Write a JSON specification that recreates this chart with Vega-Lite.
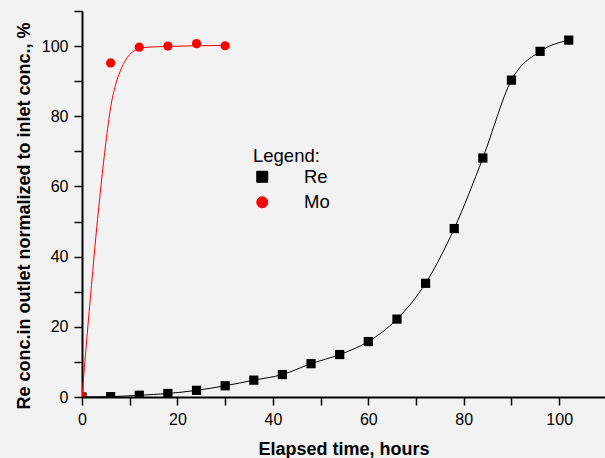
{
  "$schema": "https://vega.github.io/schema/vega-lite/v6.json",
  "width": 523,
  "height": 386,
  "autosize": {"type": "none"},
  "padding": {"left": 82, "top": 11, "right": 0, "bottom": 61},
  "background": "#f2f2f2",
  "config": {"view": {"stroke": null}, "font": "Liberation Sans"},
  "datasets": {
    "points": [
      {"series": "Re", "t": 0, "v": 0},
      {"series": "Re", "t": 6, "v": 0.1},
      {"series": "Re", "t": 12, "v": 0.5},
      {"series": "Re", "t": 18, "v": 1.0},
      {"series": "Re", "t": 24, "v": 1.9},
      {"series": "Re", "t": 30, "v": 3.2},
      {"series": "Re", "t": 36, "v": 4.8},
      {"series": "Re", "t": 42, "v": 6.4},
      {"series": "Re", "t": 48, "v": 9.5},
      {"series": "Re", "t": 54, "v": 12.1},
      {"series": "Re", "t": 60, "v": 15.8},
      {"series": "Re", "t": 66, "v": 22.2},
      {"series": "Re", "t": 72, "v": 32.4},
      {"series": "Re", "t": 78, "v": 48.0},
      {"series": "Re", "t": 84, "v": 68.1},
      {"series": "Re", "t": 90, "v": 90.3},
      {"series": "Re", "t": 96, "v": 98.5},
      {"series": "Re", "t": 102, "v": 101.7},
      {"series": "Mo", "t": 0, "v": 0},
      {"series": "Mo", "t": 6, "v": 95.2},
      {"series": "Mo", "t": 12, "v": 99.7},
      {"series": "Mo", "t": 18, "v": 100.0},
      {"series": "Mo", "t": 24, "v": 100.7},
      {"series": "Mo", "t": 30, "v": 100.1}
    ],
    "fit": [
      {"series": "Re", "t": 0, "v": 0},
      {"series": "Re", "t": 6, "v": 0.1},
      {"series": "Re", "t": 12, "v": 0.5},
      {"series": "Re", "t": 18, "v": 1.0},
      {"series": "Re", "t": 24, "v": 1.9},
      {"series": "Re", "t": 30, "v": 3.2},
      {"series": "Re", "t": 36, "v": 4.8},
      {"series": "Re", "t": 42, "v": 6.4},
      {"series": "Re", "t": 48, "v": 9.5},
      {"series": "Re", "t": 54, "v": 12.1},
      {"series": "Re", "t": 60, "v": 15.8},
      {"series": "Re", "t": 66, "v": 22.2},
      {"series": "Re", "t": 72, "v": 32.4},
      {"series": "Re", "t": 78, "v": 48.0},
      {"series": "Re", "t": 84, "v": 68.1},
      {"series": "Re", "t": 90, "v": 90.3},
      {"series": "Re", "t": 96, "v": 98.5},
      {"series": "Re", "t": 102, "v": 101.7},
      {"series": "Mo", "t": 0, "v": 0},
      {"series": "Mo", "t": 1, "v": 16.5},
      {"series": "Mo", "t": 2, "v": 32},
      {"series": "Mo", "t": 3, "v": 47},
      {"series": "Mo", "t": 4, "v": 60.5},
      {"series": "Mo", "t": 5, "v": 72.5},
      {"series": "Mo", "t": 6, "v": 82.5},
      {"series": "Mo", "t": 7, "v": 88.8},
      {"series": "Mo", "t": 8, "v": 92.8},
      {"series": "Mo", "t": 9, "v": 95.7},
      {"series": "Mo", "t": 10, "v": 97.6},
      {"series": "Mo", "t": 11, "v": 98.7},
      {"series": "Mo", "t": 12, "v": 99.3},
      {"series": "Mo", "t": 14, "v": 99.7},
      {"series": "Mo", "t": 18, "v": 99.9},
      {"series": "Mo", "t": 24, "v": 100.1},
      {"series": "Mo", "t": 30, "v": 100.2}
    ]
  },
  "encoding": {
    "x": {
      "field": "t", "type": "quantitative",
      "scale": {"domain": [0, 109.6], "nice": false, "zero": false},
      "axis": {
        "values": [0, 10, 20, 30, 40, 50, 60, 70, 80, 90, 100],
        "labelExpr": "datum.value % 20 === 0 ? datum.label : ''",
        "tickSize": 8,
        "encode": {"ticks": {"update": {"y2": {"signal": "datum.value % 20 === 0 ? 8 : 4"}}}},
        "grid": false, "labelFlush": false,
        "domainColor": "black", "domainWidth": 2,
        "tickColor": "black", "tickWidth": 1.5,
        "labelFontSize": 16, "labelColor": "black", "labelPadding": 6,
        "labelFont": "Liberation Sans",
        "title": "Elapsed time, hours",
        "titleFont": "Liberation Sans", "titleFontSize": 18, "titleFontWeight": "bold", "titleColor": "black",
        "titleBaseline": "alphabetic", "titleY": 57
      }
    },
    "y": {
      "field": "v", "type": "quantitative",
      "scale": {"domain": [0, 110], "nice": false, "zero": false},
      "axis": {
        "values": [0, 10, 20, 30, 40, 50, 60, 70, 80, 90, 100, 110],
        "labelExpr": "datum.value % 20 === 0 && datum.value <= 100 ? datum.label : ''",
        "tickSize": 8,
        "encode": {"ticks": {"update": {"x2": {"signal": "datum.value % 20 === 0 ? -8 : -4"}}}},
        "grid": false, "labelFlush": false,
        "domainColor": "black", "domainWidth": 2,
        "tickColor": "black", "tickWidth": 1.5,
        "labelFontSize": 16, "labelColor": "black", "labelPadding": 6,
        "labelFont": "Liberation Sans",
        "title": "Re conc.in outlet normalized to inlet conc., %",
        "titleFont": "Liberation Sans", "titleFontSize": 18, "titleFontWeight": "bold", "titleColor": "black",
        "titleBaseline": "alphabetic", "titleX": -53, "titleY": 204.5, "titleAngle": -90
      }
    }
  },
  "layer": [
    {
      "data": {"name": "points"},
      "mark": {"type": "point", "filled": true, "opacity": 1, "size": 85, "clip": true},
      "encoding": {
        "shape": {"field": "series", "type": "nominal", "scale": {"domain": ["Re", "Mo"], "range": ["square", "circle"]}, "legend": null},
        "color": {
          "field": "series", "type": "nominal",
          "scale": {"domain": ["Re", "Mo"], "range": ["#000000", "#ff0000"]},
          "legend": {
            "orient": "none", "legendX": 171, "legendY": 136,
            "title": "Legend:", "titleFont": "Liberation Sans", "titleFontSize": 18.5, "titleFontWeight": "normal", "titleColor": "black",
            "titlePadding": 2,
            "labelFont": "Liberation Sans", "labelFontSize": 18.5, "labelColor": "black", "labelOffset": 32.5,
            "symbolSize": 121, "symbolStrokeWidth": 1, "rowPadding": 6.5
          }
        }
      }
    },
    {
      "data": {"name": "fit"},
      "mark": {"type": "line", "interpolate": "monotone", "strokeWidth": 1, "clip": true},
      "encoding": {
        "color": {"field": "series", "type": "nominal", "scale": {"domain": ["Re", "Mo"], "range": ["#000000", "#ff0000"]}}
      }
    }
  ]
}
